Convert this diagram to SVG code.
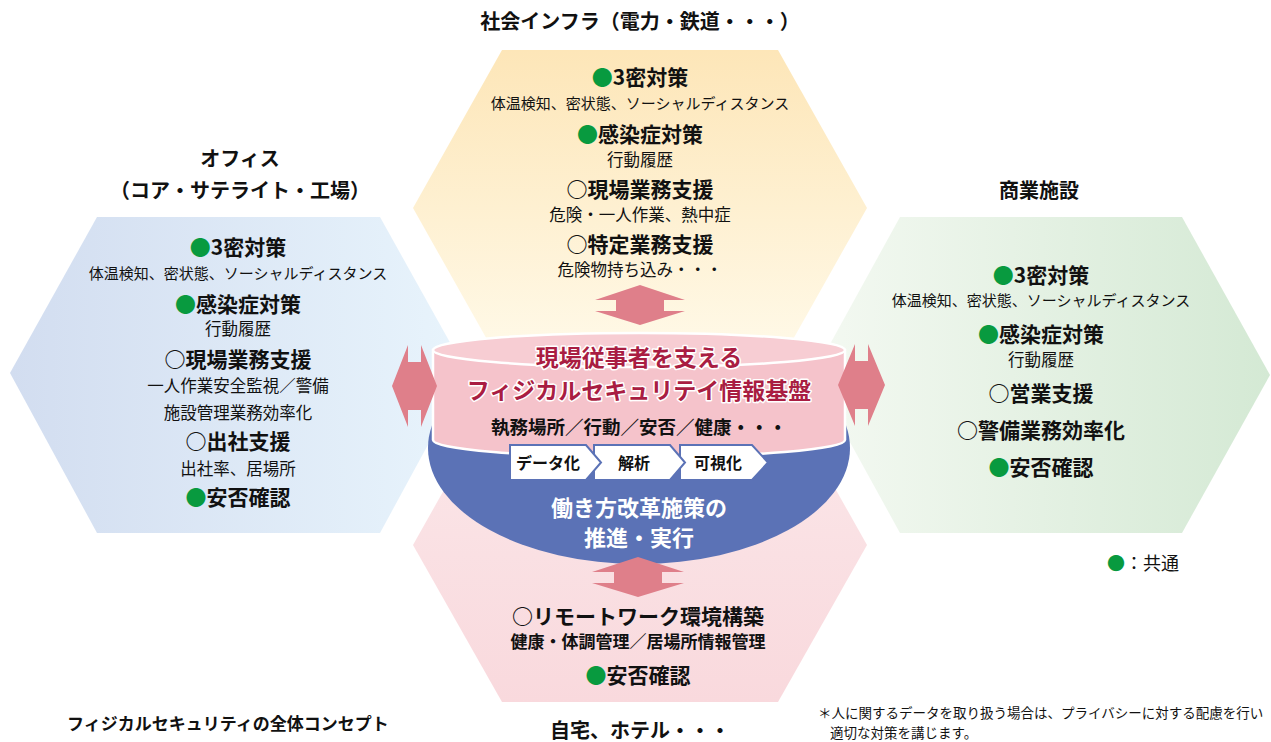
<svg xmlns="http://www.w3.org/2000/svg" width="1271" height="742" viewBox="0 0 1271 742">
<defs>
<linearGradient id="gTop" x1="0" y1="0" x2="0" y2="1"><stop offset="0" stop-color="#fde6b8"/><stop offset="1" stop-color="#fffaea"/></linearGradient>
<linearGradient id="gLeft" x1="0" y1="0" x2="1" y2="0"><stop offset="0" stop-color="#d2ddf0"/><stop offset="1" stop-color="#e8f4fc"/></linearGradient>
<linearGradient id="gRight" x1="0" y1="0" x2="1" y2="0"><stop offset="0" stop-color="#f4f9f2"/><stop offset="1" stop-color="#d4e9d4"/></linearGradient>
<linearGradient id="gBot" x1="0" y1="0" x2="0" y2="1"><stop offset="0" stop-color="#fbe8ea"/><stop offset="1" stop-color="#f9d9dd"/></linearGradient>
<style>
text{font-family:"Noto Sans CJK JP","Noto Sans",sans-serif;fill:#111;text-anchor:middle}
.h{font-size:21px;font-weight:700}
.s{font-size:16.5px}
.sl{font-size:15px}
.t{font-size:20px;font-weight:700}
.g{fill:#089a3f}
.arr{fill:#df7f8a}
.chev{fill:#fff;stroke:#5b72b6;stroke-width:2}
.cl{font-size:16px;font-weight:700}
.red{font-size:23px;font-weight:700;fill:#a91d42;stroke:#fff;stroke-width:3;paint-order:stroke;stroke-linejoin:round}
.wh{font-size:22px;font-weight:700;fill:#fff}
</style>
</defs>
<rect width="1271" height="742" fill="#fff"/>

<g id="hex-top">
<polygon points="413,208 502,50 778,50 867,208 778,366 502,366" fill="url(#gTop)"/>
<text x="640" y="29" class="t">社会インフラ（電力・鉄道・・・）</text>
<text x="640" y="85" class="h"><tspan class="g">●</tspan>3密対策</text>
<text x="640" y="109" class="sl">体温検知、密状態、ソーシャルディスタンス</text>
<text x="640" y="142" class="h"><tspan class="g">●</tspan>感染症対策</text>
<text x="640" y="166" class="s">行動履歴</text>
<text x="640" y="197" class="h">○現場業務支援</text>
<text x="640" y="221" class="s">危険・一人作業、熱中症</text>
<text x="640" y="252" class="h">○特定業務支援</text>
<text x="640" y="276" class="s">危険物持ち込み・・・</text>
</g>

<g id="hex-left">
<polygon points="10,373 97,217 380,217 467,373 380,533 97,533" fill="url(#gLeft)"/>
<text x="240" y="166" class="t">オフィス</text>
<text x="240" y="198" class="t">（コア・サテライト・工場）</text>
<text x="238" y="255" class="h"><tspan class="g">●</tspan>3密対策</text>
<text x="238" y="279" class="sl">体温検知、密状態、ソーシャルディスタンス</text>
<text x="238" y="312" class="h"><tspan class="g">●</tspan>感染症対策</text>
<text x="238" y="335" class="s">行動履歴</text>
<text x="238" y="367" class="h">○現場業務支援</text>
<text x="238" y="392" class="s">一人作業安全監視／警備</text>
<text x="238" y="419" class="s">施設管理業務効率化</text>
<text x="238" y="449" class="h">○出社支援</text>
<text x="238" y="475" class="s">出社率、居場所</text>
<text x="238" y="505" class="h"><tspan class="g">●</tspan>安否確認</text>
</g>

<g id="hex-right">
<polygon points="813,375 900,217 1182,217 1270,375 1182,533 900,533" fill="url(#gRight)"/>
<text x="1039" y="198" class="t">商業施設</text>
<text x="1041" y="283" class="h"><tspan class="g">●</tspan>3密対策</text>
<text x="1041" y="306" class="sl">体温検知、密状態、ソーシャルディスタンス</text>
<text x="1041" y="342" class="h"><tspan class="g">●</tspan>感染症対策</text>
<text x="1041" y="366" class="s">行動履歴</text>
<text x="1041" y="401" class="h">○営業支援</text>
<text x="1041" y="438" class="h">○警備業務効率化</text>
<text x="1041" y="475" class="h"><tspan class="g">●</tspan>安否確認</text>
</g>

<g id="hex-bottom">
<polygon points="413,545 502,387 778,387 867,545 778,702 502,702" fill="url(#gBot)"/>
<text x="638" y="624" class="h">○リモートワーク環境構築</text>
<text x="638" y="648" style="font-size:17px;font-weight:700">健康・体調管理／居場所情報管理</text>
<text x="638" y="683" class="h"><tspan class="g">●</tspan>安否確認</text>
<text x="640" y="738" class="t">自宅、ホテル・・・</text>
</g>

<g id="platform">
<ellipse cx="639" cy="448" rx="211" ry="116" fill="#5b72b6"/>
<path d="M433,350 L433,440 A206,17 0 0 0 845,440 L845,350 Z" fill="#f5c3cb" stroke="#fff" stroke-width="2.5"/>
<ellipse cx="639" cy="350" rx="206" ry="17" fill="#f7cdd3" stroke="#fff" stroke-width="2.5"/>
<text x="639" y="366" class="red">現場従事者を支える</text>
<text x="639" y="399" class="red">フィジカルセキュリテイ情報基盤</text>
<text x="639" y="434" style="font-size:18.5px;font-weight:700">執務場所／行動／安否／健康・・・</text>
<g id="step-3"><polygon class="chev" points="680,445 752,445 768,462.5 752,480 680,480"/><text x="718" y="469" class="cl">可視化</text></g>
<g id="step-2"><polygon class="chev" points="594,445 670,445 685,462.5 670,480 594,480"/><text x="634" y="469" class="cl">解析</text></g>
<g id="step-1"><polygon class="chev" points="510,445 586,445 601,462.5 586,480 510,480"/><text x="548" y="469" class="cl">データ化</text></g>
<text x="639" y="516" class="wh">働き方改革施策の</text>
<text x="639" y="546" class="wh">推進・実行</text>
</g>

<g id="connectors">
<path class="arr" d="M640,285 L685,300 L664,300 L664,311 L685,311 L640,325 L595,311 L616,311 L616,300 L595,300 Z"/>
<path class="arr" d="M638,557 L684,572 L662,572 L662,583 L684,583 L638,597 L592,583 L614,583 L614,572 L592,572 Z"/>
<path class="arr" d="M392,386 L408,345 L408,362 L421,362 L421,345 L437,386 L421,427 L421,410 L408,410 L408,427 Z"/>
<path class="arr" d="M838,385 L855,344 L855,361 L868,361 L868,344 L885,385 L868,426 L868,409 L855,409 L855,426 Z"/>
</g>

<g id="legend">
<text x="1107" y="570" style="font-size:18px;text-anchor:start"><tspan class="g">●</tspan>：共通</text>
</g>

<g id="notes">
<text x="67" y="730" style="font-size:17px;font-weight:700;text-anchor:start">フィジカルセキュリティの全体コンセプト</text>
<text x="818" y="718" style="font-size:13.5px;text-anchor:start">＊人に関するデータを取り扱う場合は、プライバシーに対する配慮を行い</text>
<text x="830" y="738" style="font-size:13.5px;text-anchor:start">適切な対策を講じます。</text>
</g>
</svg>
